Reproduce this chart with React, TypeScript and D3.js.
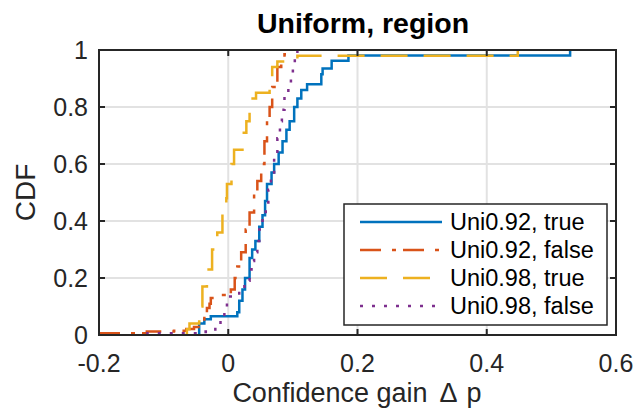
import React from 'react';
import * as d3 from 'd3';

// axis ticks
const xTicks = [-0.2, 0, 0.2, 0.4, 0.6];
const xTickLabels = ['-0.2', '0', '0.2', '0.4', '0.6'];
const yTicks = [0, 0.2, 0.4, 0.6, 0.8, 1];
const yTickLabels = ['0', '0.2', '0.4', '0.6', '0.8', '1'];

const uni92TrueX = [-0.045, -0.045, -0.037, -0.027, 0.014, 0.017, 0.022, 0.026, 0.033, 0.037, 0.042, 0.048, 0.053, 0.057, 0.060, 0.067, 0.071, 0.078, 0.084, 0.090, 0.095, 0.102, 0.107, 0.113, 0.122, 0.144, 0.146, 0.160, 0.186, 0.529];
const uni92TrueY = [0, 0.04, 0.055, 0.066, 0.08, 0.12, 0.16, 0.20, 0.27, 0.30, 0.33, 0.38, 0.42, 0.47, 0.53, 0.57, 0.60, 0.64, 0.68, 0.72, 0.75, 0.80, 0.83, 0.86, 0.88, 0.915, 0.935, 0.962, 0.981, 1];

const uni92FalseX = [-0.2, -0.126, -0.084, -0.065, -0.053, -0.037, -0.033, -0.029, -0.027, -0.014, 0.004, 0.010, 0.014, 0.020, 0.027, 0.033, 0.040, 0.045, 0.051, 0.056, 0.060, 0.064, 0.068, 0.076, 0.082, 0.087, 0.090];
const uni92FalseY = [0.006, 0.012, 0.015, 0.021, 0.028, 0.06, 0.095, 0.11, 0.13, 0.14, 0.16, 0.20, 0.24, 0.29, 0.37, 0.43, 0.50, 0.54, 0.60, 0.68, 0.76, 0.80, 0.87, 0.94, 0.97, 0.985, 1];

const uni98TrueX = [-0.064, -0.064, -0.060, -0.045, -0.042, -0.040, -0.033, -0.025, -0.017, -0.009, -0.003, -0.002, 0.005, 0.009, 0.022, 0.028, 0.033, 0.043, 0.064, 0.068, 0.076, 0.107, 0.448];
const uni98TrueY = [0, 0.02, 0.04, 0.047, 0.10, 0.17, 0.23, 0.30, 0.36, 0.43, 0.48, 0.53, 0.60, 0.65, 0.71, 0.75, 0.83, 0.85, 0.90, 0.94, 0.96, 0.98, 1];

const uni98FalseX = [-0.125, -0.125, -0.035, -0.020, -0.012, -0.006, -0.002, 0.003, 0.010, 0.017, 0.025, 0.033, 0.036, 0.040, 0.045, 0.048, 0.053, 0.058, 0.062, 0.066, 0.071, 0.076, 0.080, 0.083, 0.087, 0.093, 0.097, 0.100, 0.103, 0.107];
const uni98FalseY = [0, 0.006, 0.012, 0.035, 0.065, 0.10, 0.12, 0.135, 0.14, 0.16, 0.19, 0.23, 0.26, 0.29, 0.33, 0.37, 0.41, 0.46, 0.51, 0.57, 0.62, 0.69, 0.75, 0.79, 0.84, 0.88, 0.91, 0.94, 0.97, 1];

const seriesNames = ['Uni0.92, true', 'Uni0.92, false', 'Uni0.98, true', 'Uni0.98, false'];
const seriesColors = ['#0072BD', '#D95319', '#EDB120', '#7E2F8E'];
const seriesDashes = ['none', '21,11,4,7', '27,16', '3,9'];

const W = 635, H = 408;
const left = 99, right = 616, top = 50, bottom = 335;
const font = '"Liberation Sans", Arial, Helvetica, sans-serif';
const axisColor = '#262626';

const App = () => {
    const x = d3.scaleLinear().domain([-0.2, 0.6]).range([left, right]);
    const y = d3.scaleLinear().domain([0, 1]).range([bottom, top]);

    const series = [
        d3.zip(uni92TrueX, uni92TrueY),
        d3.zip(uni92FalseX, uni92FalseY),
        d3.zip(uni98TrueX, uni98TrueY),
        d3.zip(uni98FalseX, uni98FalseY),
    ];
    const line = d3.line<number[]>().x(d => x(d[0])).y(d => y(d[1])).curve(d3.curveStepAfter);

    /* legend geometry */
    const lgX = 344, lgY = 204, lgW = 263, lgH = 121, rowH = 28;

    return (
        <svg width={W} height={H} style={{ position: 'absolute', left: 0, top: 0, background: '#fff' }} fontFamily={font}>
            <defs>
                <clipPath id='plotClip'>
                    <rect x={left} y={top - 2} width={right - left} height={bottom - top + 4} />
                </clipPath>
            </defs>
            <rect x={0} y={0} width={W} height={H} fill='#fff' />

            {/* grid */}
            {xTicks.map(t => (
                <line key={'gx' + t} x1={x(t)} x2={x(t)} y1={top} y2={bottom} stroke='#e2e2e2' strokeWidth={2} />
            ))}
            {yTicks.map(t => (
                <line key={'gy' + t} x1={left} x2={right} y1={y(t)} y2={y(t)} stroke='#e2e2e2' strokeWidth={2} />
            ))}

            {/* curves */}
            <g clipPath='url(#plotClip)'>
                {series.map((s, i) => (
                    <path key={i} d={line(s) || ''} fill='none' stroke={seriesColors[i]} strokeWidth={2.5}
                        strokeDasharray={seriesDashes[i]} />
                ))}
            </g>

            {/* box and ticks */}
            <rect x={left} y={top} width={right - left} height={bottom - top} fill='none' stroke={axisColor} strokeWidth={2} />
            {xTicks.map(t => (
                <g key={'tx' + t}>
                    <line x1={x(t)} x2={x(t)} y1={bottom} y2={bottom - 6} stroke={axisColor} strokeWidth={2} />
                    <line x1={x(t)} x2={x(t)} y1={top} y2={top + 6} stroke={axisColor} strokeWidth={2} />
                </g>
            ))}
            {yTicks.map(t => (
                <g key={'ty' + t}>
                    <line x1={left} x2={left + 6} y1={y(t)} y2={y(t)} stroke={axisColor} strokeWidth={2} />
                    <line x1={right} x2={right - 6} y1={y(t)} y2={y(t)} stroke={axisColor} strokeWidth={2} />
                </g>
            ))}

            {/* tick labels */}
            {xTicks.map((t, i) => (
                <text key={'lx' + t} x={x(t)} y={372} textAnchor='middle' fontSize={25} fill={axisColor}>{xTickLabels[i]}</text>
            ))}
            {yTicks.map((t, i) => (
                <text key={'ly' + t} x={88} y={y(t) + 8.5} textAnchor='end' fontSize={25} fill={axisColor}>{yTickLabels[i]}</text>
            ))}

            {/* labels */}
            <text x={363} y={33} textAnchor='middle' fontSize={28.5} fontWeight='bold' fill='#000'>Uniform, region</text>
            <text x={357} y={402} textAnchor='middle' fontSize={27} fill={axisColor}>
                Confidence gain<tspan dx={12}>Δ</tspan><tspan dx={9}>p</tspan>
            </text>
            <text transform={`translate(35,${(top + bottom) / 2}) rotate(-90)`} textAnchor='middle' fontSize={28} fill={axisColor}>CDF</text>

            {/* legend */}
            <rect x={lgX} y={lgY} width={lgW} height={lgH} fill='#fff' stroke={axisColor} strokeWidth={1.5} />
            {seriesNames.map((name, i) => {
                const cy = lgY + 18 + i * rowH;
                return (
                    <g key={name}>
                        <line x1={lgX + 16} x2={lgX + 98} y1={cy} y2={cy} stroke={seriesColors[i]} strokeWidth={2.5}
                            strokeDasharray={seriesDashes[i]} />
                        <text x={lgX + 106} y={cy + 8} fontSize={23.5} fill='#000'>{name}</text>
                    </g>
                );
            })}
        </svg>
    );
};

export default App;
